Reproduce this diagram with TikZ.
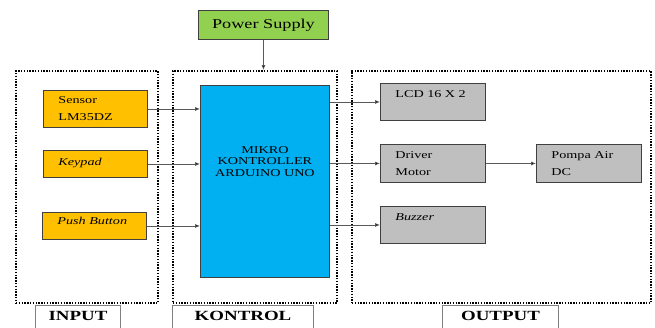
\documentclass[tikz,border=0pt]{standalone}
\usepackage{fontspec}
\setmainfont[FakeStretch=1.35]{Liberation Serif}
\usetikzlibrary{arrows.meta,positioning}
\definecolor{inclr}{HTML}{FFC000}
\definecolor{mcuclr}{HTML}{00B0F0}
\definecolor{psuclr}{HTML}{92D050}
\definecolor{outclr}{HTML}{BFBFBF}
\definecolor{edgeclr}{HTML}{404040}

\tikzset{
  blk/.style={draw=edgeclr, line width=0.9pt, anchor=north west, inner ysep=0pt,
    font=\fontsize{10.5}{17}\selectfont},
  inblk/.style={blk, fill=inclr, minimum width=104pt, text width=74pt, inner xsep=15pt, align=left},
  outblk/.style={blk, fill=outclr, minimum width=105pt, minimum height=37pt,
    text width=75pt, inner xsep=15pt, align=left},
  frame/.style={draw, line width=1.8pt, dash pattern=on 1.4pt off 1.4pt,
    anchor=north west, inner sep=0pt, minimum height=232pt},
  tag/.style={draw=gray, fill=white, line width=1pt, anchor=north west, inner sep=0pt,
    minimum height=30pt, text height=9.5pt, text depth=9.5pt,
    font=\fontsize{14}{14}\selectfont\bfseries},
  arr/.style={draw=black!65, line width=0.7pt, -{Latex[length=5pt,width=4pt,fill=black]}}
}

\begin{document}
\begin{tikzpicture}[x=1pt, y=-1pt]
\useasboundingbox (0,0) rectangle (655,327);
\clip (0,0) rectangle (655,327);

% Dotted group frames
\node[frame, minimum width=142pt] (input)   at (15,70)  {};
\node[frame, minimum width=164pt] (kontrol) at (172,70) {};
\node[frame, minimum width=299pt] (output)  at (351,70) {};

% Group tags below the frames
\node[tag, minimum width=85pt]  (tagin)  at (35,305)  {INPUT};
\node[tag, minimum width=141pt] (tagkon) at (172,305) {KONTROL};
\node[tag, minimum width=116pt] (tagout) at (442,305) {OUTPUT};

% Power supply
\node[blk, fill=psuclr, minimum width=130pt, minimum height=29pt,
  font=\fontsize{13.5}{14}\selectfont] (psu) at (198,10) {Power Supply};

% Microcontroller
\node[blk, fill=mcuclr, minimum width=129pt, minimum height=192pt,
  label={[anchor=north, align=center, inner sep=0pt, yshift=-61pt,
    font=\fontsize{10.5}{11.5}\selectfont]north:MIKRO\\KONTROLLER\\ARDUINO UNO}] (mcu) at (200,85) {};

% Inputs
\node[inblk, minimum height=37pt] (sensor) at (43,90) {Sensor\\LM35DZ};
\node[inblk, minimum height=27pt, text depth=4pt] (keypad) at (43,150) {\textit{Keypad}};
\node[inblk, minimum height=27pt, text depth=10pt] (button) at (42,212) {\textit{Push Button}};

% Outputs
\node[outblk, text depth=16pt] (lcd) at (380,83) {LCD 16 X 2};
\node[outblk, minimum height=38pt] (driver) at (380,144) {Driver\\Motor};
\node[outblk, minimum height=38pt] (pompa) at (536,144) {Pompa Air\\DC};
\node[outblk, text depth=16pt, minimum width=104pt] (buzzer) at (380,206) {\textit{Buzzer}};

% Connectors
\draw[arr] (psu.south) -- (psu.south |- kontrol.north);
\draw[arr] (sensor.east) -- (sensor.east -| mcu.west);
\draw[arr] (keypad.east) -- (keypad.east -| mcu.west);
\draw[arr] (button.east) -- (button.east -| mcu.west);
\draw[arr] (mcu.east |- lcd.west) -- (lcd.west);
\draw[arr] (mcu.east |- driver.west) -- (driver.west);
\draw[arr] (mcu.east |- buzzer.west) -- (buzzer.west);
\draw[arr] (driver.east) -- (pompa.west);

\end{tikzpicture}
\end{document}
